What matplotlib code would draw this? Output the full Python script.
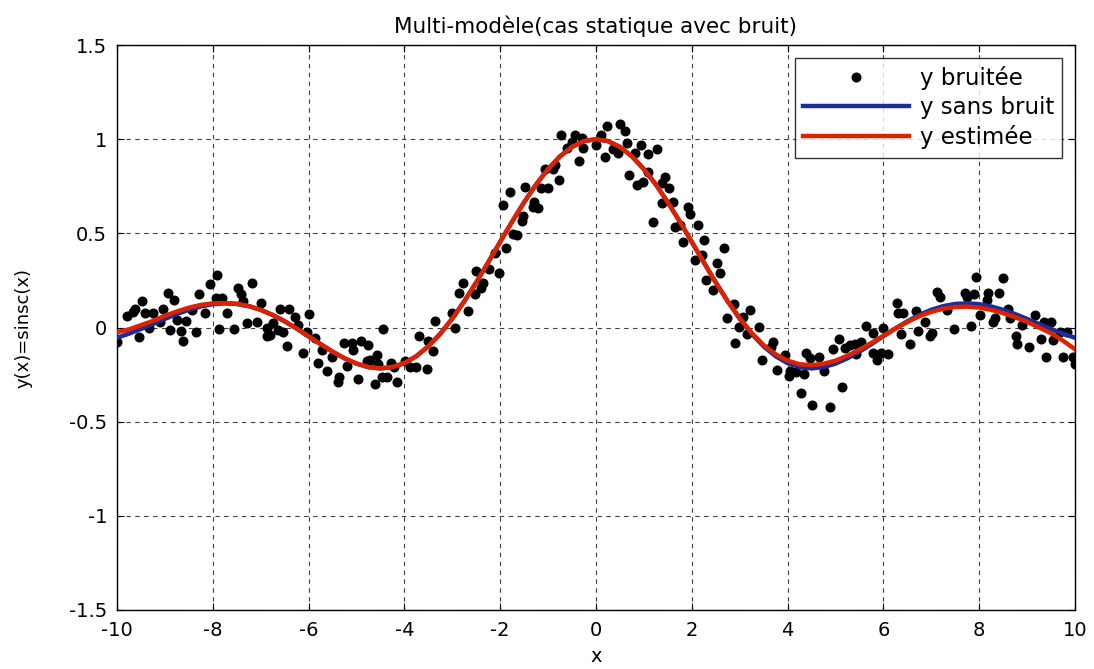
import matplotlib
matplotlib.use("Agg")
from matplotlib import pyplot as plt

plt.rcParams['font.family'] = ['DejaVu Sans']

# noisy samples
x_noisy = [-9.99, -9.80, -9.66, -9.62, -9.48, -9.42, -9.53, -9.33, -9.24, -9.03,
           -8.93, -9.10, -8.89, -8.81, -8.75, -8.66, -8.56, -8.62, -8.44, -8.34,
           -8.28, -8.16, -8.06, -7.92, -7.93, -7.81, -7.87, -7.71, -7.56, -7.47,
           -7.42, -7.36, -7.19, -7.29, -7.08, -7.00, -6.87, -6.86, -6.74, -6.63,
           -6.81, -6.60, -6.40, -6.28, -6.21, -6.53, -6.46, -5.99, -6.11, -6.04,
           -5.87, -5.80, -5.71, -5.61, -5.52, -5.36, -5.38, -5.26, -5.20, -5.10,
           -5.07, -4.96, -4.91, -4.75, -4.72, -4.79, -4.61, -4.57, -4.54, -4.47,
           -4.45, -4.37, -4.27, -4.22, -4.15, -3.99, -3.88, -3.76, -3.69, -3.53,
           -3.50, -3.40, -3.36, -3.01, -2.94, -2.67, -2.85, -2.77, -2.53, -2.39,
           -2.35, -2.51, -2.23, -2.02, -2.11, -1.88, -1.73, -1.64, -1.52, -1.55,
           -1.94, -1.80, -1.48, -1.29, -1.20, -1.31, -1.15, -1.00, -0.77, -1.06,
           -0.89, -0.86, -0.72, -0.51, -0.44, -0.30, -0.27, -0.35, -0.61, 0.00,
           0.10, 0.24, 0.19, 0.36, 0.50, 0.61, 0.47, 0.65, 0.81, 0.93,
           1.09, 1.27, 0.70, 0.85, 0.99, 1.09, 1.37, 1.44, 1.53, 1.37,
           1.60, 1.20, 1.65, 1.75, 1.96, 1.93, 2.12, 1.82, 2.25, 2.07,
           2.21, 2.67, 2.59, 2.52, 2.30, 2.44, 2.88, 2.73, 3.22, 2.99,
           3.06, 3.41, 3.15, 2.90, 3.46, 3.70, 3.65, 3.77, 3.95, 4.05,
           4.04, 4.18, 4.34, 4.29, 4.38, 4.47, 4.52, 4.66, 4.76, 4.89,
           5.13, 4.94, 5.08, 5.20, 5.30, 5.41, 5.43, 5.53, 5.64, 5.79,
           5.78, 5.86, 5.96, 6.10, 6.00, 6.28, 6.31, 6.40, 6.36, 6.56,
           6.68, 6.73, 6.87, 6.97, 7.01, 7.11, 7.18, 7.32, 7.47, 7.70,
           7.75, 7.89, 7.84, 7.93, 8.02, 8.19, 8.16, 8.42, 8.49, 8.33,
           8.28, 8.61, 8.64, 8.77, 8.80, 8.89, 9.05, 9.17, 9.30, 9.35,
           9.51, 9.39, 9.55, 9.69, 9.76, 9.83, 9.95, 10.00]
y_noisy = [-0.075, 0.061, 0.084, 0.100, 0.140, 0.079, -0.052, 0.000, 0.075, 0.097,
           0.185, 0.031, -0.013, 0.146, 0.040, -0.019, 0.035, -0.070, 0.093, -0.024,
           0.176, 0.079, 0.230, 0.280, 0.155, 0.155, -0.008, 0.075, -0.008, 0.210,
           0.176, 0.140, 0.238, 0.025, 0.031, 0.132, -0.004, -0.045, 0.025, -0.013,
           -0.040, 0.097, 0.097, 0.057, 0.013, -0.022, -0.098, 0.070, -0.134, -0.022,
           -0.057, -0.190, -0.120, -0.230, -0.158, -0.265, -0.288, -0.080, -0.204, -0.080,
           -0.120, -0.275, -0.070, -0.093, -0.173, -0.176, -0.300, -0.146, -0.194, -0.265,
           -0.010, -0.265, -0.187, -0.208, -0.288, -0.176, -0.211, -0.211, -0.045, -0.222,
           -0.070, -0.123, 0.036, 0.079, -0.004, 0.089, 0.185, 0.235, 0.178, 0.208,
           0.238, 0.300, 0.309, 0.288, 0.394, 0.424, 0.495, 0.491, 0.592, 0.567,
           0.651, 0.721, 0.748, 0.668, 0.633, 0.638, 0.739, 0.739, 0.783, 0.840,
           0.840, 0.863, 1.022, 0.987, 1.022, 1.005, 0.952, 0.886, 0.952, 0.969,
           1.022, 1.070, 0.907, 0.946, 1.081, 1.045, 0.928, 0.978, 0.925, 0.969,
           0.921, 0.946, 0.810, 0.757, 0.774, 0.827, 0.769, 0.801, 0.739, 0.660,
           0.668, 0.562, 0.535, 0.544, 0.603, 0.642, 0.544, 0.456, 0.465, 0.358,
           0.385, 0.420, 0.288, 0.341, 0.252, 0.199, 0.125, 0.049, 0.093, 0.004,
           0.054, 0.001, -0.035, -0.080, -0.173, -0.075, -0.105, -0.226, -0.146, -0.229,
           -0.258, -0.235, -0.247, -0.346, -0.134, -0.164, -0.412, -0.155, -0.229, -0.420,
           -0.314, -0.116, -0.063, -0.110, -0.093, -0.088, -0.141, -0.075, 0.008, -0.031,
           -0.137, -0.173, -0.134, -0.141, -0.004, 0.132, 0.079, 0.079, -0.035, -0.088,
           0.089, -0.017, 0.031, -0.045, -0.028, 0.190, 0.164, 0.093, -0.010, 0.185,
           0.164, 0.178, 0.008, 0.270, 0.066, 0.182, 0.146, 0.182, 0.261, 0.049,
           0.031, 0.097, 0.049, -0.045, -0.088, 0.013, -0.105, 0.066, -0.063, 0.031,
           0.031, -0.158, -0.066, -0.022, -0.158, -0.022, -0.158, -0.194]

# curves, sampled every 0.25
x_curve = [-10.0, -9.75, -9.5, -9.25, -9.0, -8.75, -8.5, -8.25, -8.0, -7.75,
           -7.5, -7.25, -7.0, -6.75, -6.5, -6.25, -6.0, -5.75, -5.5, -5.25,
           -5.0, -4.75, -4.5, -4.25, -4.0, -3.75, -3.5, -3.25, -3.0, -2.75,
           -2.5, -2.25, -2.0, -1.75, -1.5, -1.25, -1.0, -0.75, -0.5, -0.25,
           0.0, 0.25, 0.5, 0.75, 1.0, 1.25, 1.5, 1.75, 2.0, 2.25,
           2.5, 2.75, 3.0, 3.25, 3.5, 3.75, 4.0, 4.25, 4.5, 4.75,
           5.0, 5.25, 5.5, 5.75, 6.0, 6.25, 6.5, 6.75, 7.0, 7.25,
           7.5, 7.75, 8.0, 8.25, 8.5, 8.75, 9.0, 9.25, 9.5, 9.75, 10.0]
y_clean = [-0.0544, -0.0327, -0.0079, 0.0188, 0.0458, 0.0714, 0.0939, 0.1118, 0.1237, 0.1283,
           0.1251, 0.1135, 0.0939, 0.0667, 0.0331, -0.0053, -0.0466, -0.0884, -0.1283, -0.1636,
           -0.1918, -0.2104, -0.2172, -0.2106, -0.1892, -0.1524, -0.1002, -0.0333, 0.0470, 0.1388,
           0.2394, 0.3458, 0.4546, 0.5623, 0.6650, 0.7592, 0.8415, 0.9089, 0.9589, 0.9896,
           1.0, 0.9896, 0.9589, 0.9089, 0.8415, 0.7592, 0.6650, 0.5623, 0.4546, 0.3458,
           0.2394, 0.1388, 0.0470, -0.0333, -0.1002, -0.1524, -0.1892, -0.2106, -0.2172, -0.2104,
           -0.1918, -0.1636, -0.1283, -0.0884, -0.0466, -0.0053, 0.0331, 0.0667, 0.0939, 0.1135,
           0.1251, 0.1283, 0.1237, 0.1118, 0.0939, 0.0714, 0.0458, 0.0188, -0.0079, -0.0327, -0.0544]
y_est = [-0.025, -0.010, 0.012, 0.035, 0.062, 0.085, 0.105, 0.120, 0.128, 0.130,
         0.126, 0.114, 0.094, 0.067, 0.033, -0.005, -0.047, -0.088, -0.128, -0.163,
         -0.191, -0.210, -0.217, -0.210, -0.189, -0.152, -0.100, -0.033, 0.047, 0.139,
         0.239, 0.346, 0.455, 0.562, 0.665, 0.759, 0.841, 0.909, 0.959, 0.990,
         1.0, 0.990, 0.959, 0.909, 0.841, 0.760, 0.665, 0.563, 0.455, 0.347,
         0.240, 0.140, 0.050, -0.028, -0.093, -0.142, -0.176, -0.195, -0.200, -0.193,
         -0.176, -0.150, -0.118, -0.082, -0.044, -0.006, 0.029, 0.060, 0.083, 0.100,
         0.109, 0.111, 0.106, 0.094, 0.076, 0.055, 0.030, 0.000, -0.030, -0.070, -0.115]

fig = plt.figure(figsize=(10.94, 6.69), dpi=100)
ax = fig.add_axes([0.1069, 0.0882, 0.8757, 0.8445])

ax.plot(x_noisy, y_noisy, 'o', color='black', markersize=6.2, label='y bruitée', zorder=3)
ax.plot(x_curve, y_clean, color='#1c2c98', linewidth=3.2, label='y sans bruit', zorder=4)
ax.plot(x_curve, y_est, color='#dd2200', linewidth=3.2, label='y estimée', zorder=5)

ax.set_xlim(-10, 10)
ax.set_ylim(-1.5, 1.5)
ax.set_xticks(range(-10, 11, 2))
ax.set_yticks([-1.5, -1, -0.5, 0, 0.5, 1, 1.5])
ax.set_yticklabels(['-1.5', '-1', '-0.5', '0', '0.5', '1', '1.5'])
ax.set_xticklabels([str(v) for v in range(-10, 11, 2)])
ax.tick_params(direction='in', top=True, right=True, labelsize=14, length=5)
ax.tick_params(axis='x', pad=8)
ax.tick_params(axis='y', pad=7)
ax.grid(True, color='#404040', linestyle=(0, (4, 4)), linewidth=0.8)
for s in ax.spines.values():
    s.set_linewidth(1.0)

ax.set_title('Multi-modèle(cas statique avec bruit)', fontsize=15.5, pad=9)
ax.set_xlabel('x', fontsize=14)
ax.xaxis.set_label_coords(0.5, -0.066)
ax.set_ylabel('y(x)=sinsc(x)', fontsize=13)
ax.yaxis.set_label_coords(-0.088, 0.5)

leg = ax.legend(loc='upper right', fontsize=16.5, frameon=True, fancybox=False,
                edgecolor='black', handlelength=4.6, handletextpad=0.5,
                labelspacing=0.28, borderpad=0.35, borderaxespad=0.55,
                numpoints=1)
leg.get_frame().set_linewidth(1.0)

plt.savefig('out.png', dpi=100)
